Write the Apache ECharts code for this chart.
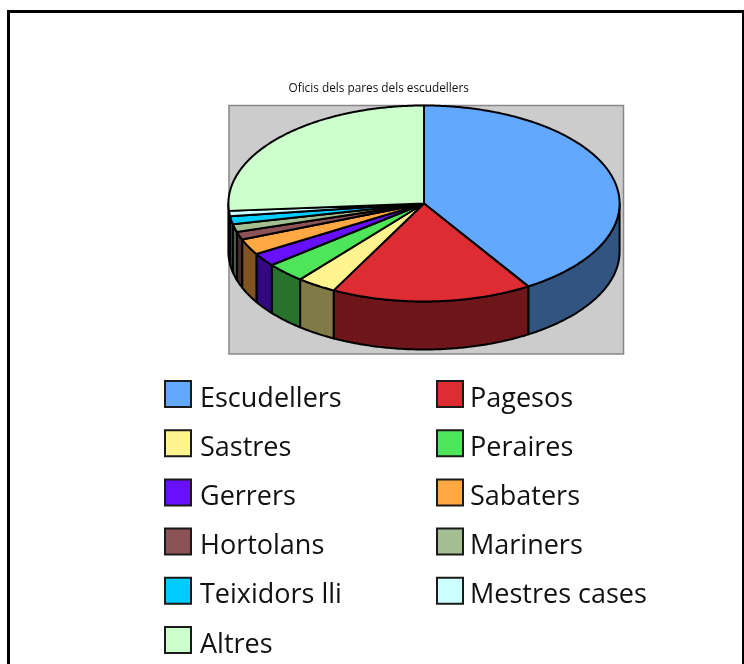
<!DOCTYPE html>
<html>
<head>
<meta charset="utf-8">
<style>
html, body { margin: 0; padding: 0; background: #fff; }
#chart { width: 744px; height: 664px; }
</style>
<script src="https://cdn.jsdelivr.net/npm/echarts@6/dist/echarts.min.js"></script>
</head>
<body>
<div id="chart"></div>
<script>
const categories = ["Escudellers", "Pagesos", "Sastres", "Peraires", "Gerrers", "Sabaters", "Hortolans", "Mariners", "Teixidors lli", "Mestres cases", "Altres"];
const values = [94, 38, 7.5, 7.5, 5, 6, 3, 3, 3, 2, 60];
const colors = ["#62a8ff", "#de2c33", "#fff48e", "#4ee55b", "#6610ff", "#ffa844", "#8b5355", "#a3bf92", "#00ccff", "#ccffff", "#ccffcc"];
const leftColumn = ["Escudellers", "Sastres", "Gerrers", "Hortolans", "Teixidors lli", "Altres"];
const rightColumn = ["Pagesos", "Peraires", "Sabaters", "Mariners", "Mestres cases"];

const chartTitle = "Oficis dels pares dels escudellers";
const depth = 0.49; // wall height, in units of the vertical radius

const total = values.reduce((a, b) => a + b, 0);

function point(angle, drop) {
	return [Math.sin(angle), Math.cos(angle) - drop];
}

function arc(from, to, drop) {
	const pts = [];
	const steps = Math.max(2, Math.ceil((to - from) / 0.01));
	for (let i = 0; i <= steps; i++) {
		pts.push(point(from + (to - from) * i / steps, drop));
	}
	return pts;
}

function darken(color) {
	const c = echarts.color.parse(color);
	return "rgb(" + Math.round(c[0] / 2) + "," + Math.round(c[1] / 2) + "," + Math.round(c[2] / 2) + ")";
}

function sliceRenderer(index) {
	const before = values.slice(0, index).reduce((a, b) => a + b, 0);
	const start = before / total * Math.PI * 2;
	const end = (before + values[index]) / total * Math.PI * 2;
	const edge = { stroke: "#000", lineWidth: 2, lineJoin: "round" };

	return (params, api) => {
		const children = [];
		// only the front half of the rim shows a wall
		const wallFrom = Math.max(start, Math.PI / 2);
		const wallTo = Math.min(end, Math.PI * 1.5);
		if (wallTo > wallFrom) {
			const wall = arc(wallFrom, wallTo, 0).concat(arc(wallFrom, wallTo, depth).reverse());
			children.push({
				type: "polygon",
				shape: { points: wall.map((p) => api.coord(p)) },
				style: Object.assign({ fill: darken(colors[index]) }, edge)
			});
		}
		const top = [[0, 0]].concat(arc(start, end, 0));
		children.push({
			type: "polygon",
			shape: { points: top.map((p) => api.coord(p)) },
			style: Object.assign({ fill: colors[index] }, edge)
		});
		return { type: "group", children: children };
	};
}

const myChart = echarts.init(document.getElementById("chart"));

function legendColumn(names, left, textGap) {
	return {
		data: names,
		orient: "vertical",
		left: left,
		top: 375.5,
		height: 288,
		icon: "rect",
		itemWidth: 26,
		itemHeight: 26,
		itemGap: 12.2,
		padding: 0,
		selectedMode: false,
		itemStyle: { borderColor: "#1a1a1a", borderWidth: 2 },
		formatter: (name) => "{t|" + name + "}",
		textStyle: {
			rich: {
				t: { fontFamily: "Open Sans", fontSize: 27, lineHeight: 26, color: "#111", padding: [10, 0, 0, textGap] }
			}
		}
	};
}

myChart.setOption({
	animation: false,
	backgroundColor: "#fff",
	title: {
		text: chartTitle,
		left: 288.5,
		top: 83,
		padding: 0,
		textStyle: { fontFamily: "Open Sans", fontSize: 11.8, fontWeight: "normal", color: "#111" }
	},
	grid: {
		show: true,
		left: 229,
		top: 105.5,
		width: 394.5,
		height: 248.5,
		backgroundColor: "#cccccc",
		borderColor: "#888",
		borderWidth: 1.5
	},
	xAxis: { type: "value", min: -0.997, max: 1.02, show: false },
	yAxis: { type: "value", min: -1.536, max: 1, show: false },
	legend: [legendColumn(leftColumn, 164, 4), legendColumn(rightColumn, 436, 2)],
	graphic: [{
		type: "polyline",
		shape: { points: [[8.5, 700], [8.5, 11.5], [743.5, 11.5], [743.5, 700]] },
		style: { fill: "none", stroke: "#000", lineWidth: 3 }
	}],
	series: categories.map((name, i) => ({
		name: name,
		type: "custom",
		coordinateSystem: "cartesian2d",
		clip: false,
		silent: true,
		itemStyle: { color: colors[i] },
		encode: { x: 0, y: 1 },
		data: [[0, 0, values[i]]],
		renderItem: sliceRenderer(i)
	}))
});
</script>
</body>
</html>
